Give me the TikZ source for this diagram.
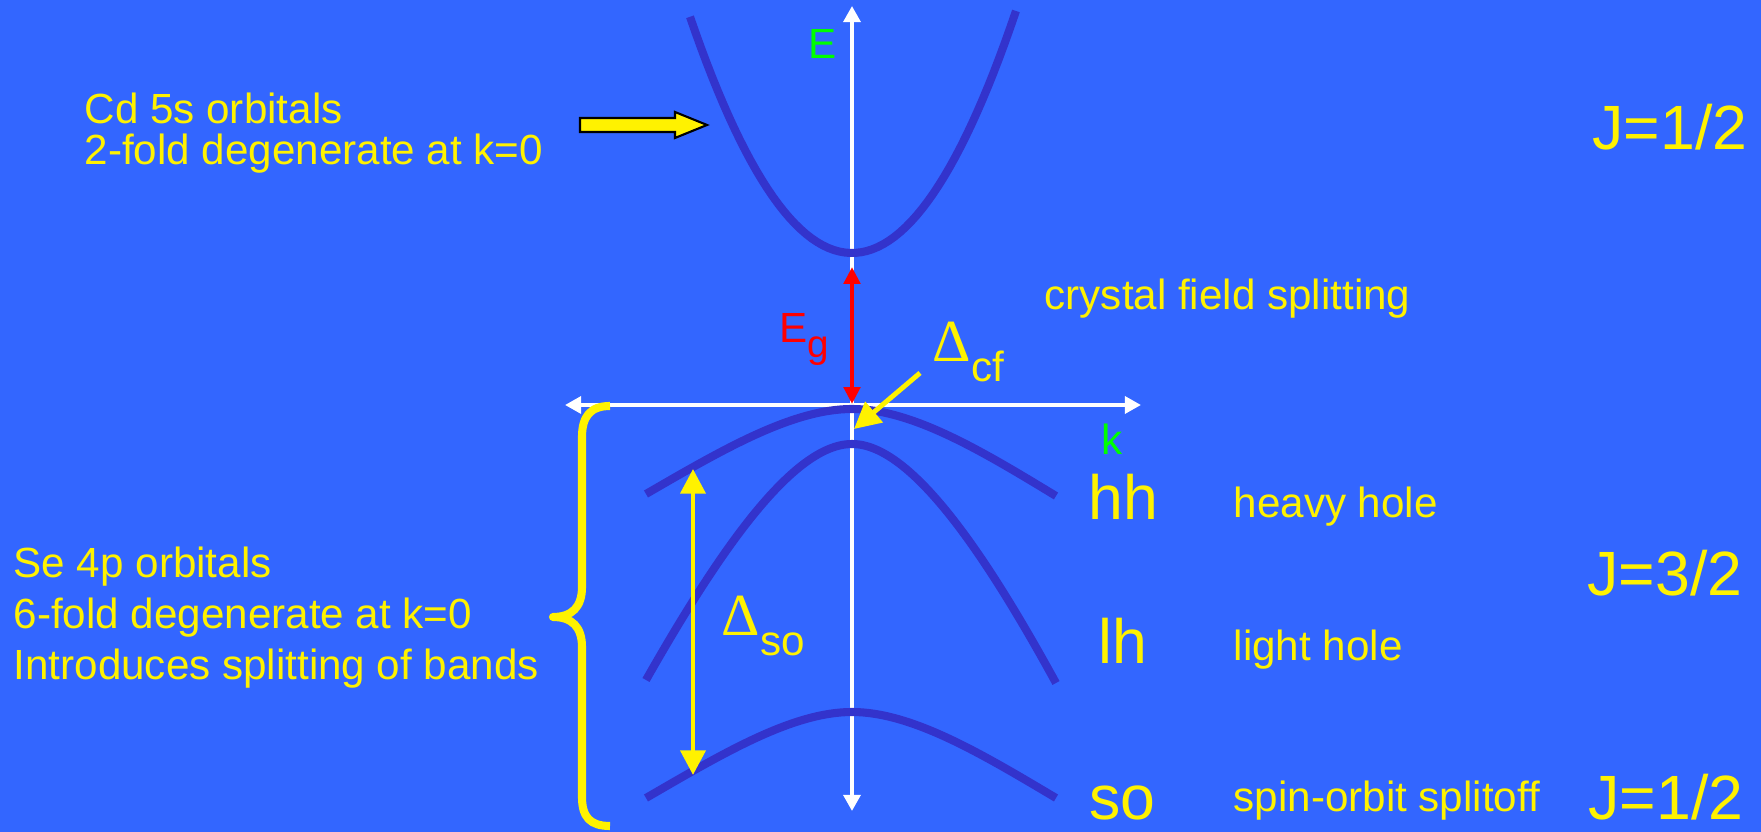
\documentclass[tikz,border=0pt]{standalone}
\usepackage{fontspec}
\setmainfont{Liberation Sans}
\newfontfamily\greekfont{Liberation Serif}
\usepackage{xcolor}
\usetikzlibrary{arrows.meta}

\definecolor{slideblue}{RGB}{51,102,255}
\definecolor{bandblue}{RGB}{51,51,204}
\definecolor{axisgreen}{RGB}{0,255,0}

\begin{document}
\begin{tikzpicture}[>=Stealth,
    band/.style={line width=2.3pt, bandblue},
    axis/.style={line width=1.1pt, white, {Triangle[length=4.6pt,width=4.8pt]}-{Triangle[length=4.6pt,width=4.8pt]}},
    gap/.style={yellow, line width=1.4pt},
    txt/.style={text=yellow, inner sep=0pt, font=\fontsize{12}{14.6}\selectfont},
    bigtxt/.style={text=yellow, inner sep=0pt, font=\fontsize{17.8}{20}\selectfont}]
    % Slide background
    \fill [slideblue] (-8.52,-4.27) rectangle (9.09,4.05);
    \useasboundingbox (-8.52,-4.27) rectangle (9.09,4.05);

    % E and k axes
    \draw [axis] (0,-4.06) -- (0,3.99);
    \draw [axis] (-2.87,0) -- (2.89,0);
    \node [text=axisgreen, inner sep=0pt, font=\fontsize{12}{14}\selectfont, anchor=base west] (Elab) at (-0.44,3.46) {E};
    \node [text=axisgreen, inner sep=0pt, font=\fontsize{12}{14}\selectfont, anchor=base west] (klab) at (2.49,-0.50) {k};

    % Band gap
    \draw [red, line width=1.4pt, {Triangle[length=4.8pt,width=4.6pt]}-{Triangle[length=4.8pt,width=4.6pt]}] (0,0.01) -- (0,1.38);
    \node [text=red, inner sep=0pt, font=\fontsize{12}{14}\selectfont, anchor=base west] (Eg) at (-0.73,0.62) {E\raisebox{-0.15cm}{\fontsize{11}{12}\selectfont g}};

    % Conduction band
    \draw [band, domain=-1.62:1.64, samples=60] plot (\x, {1.52+0.9*\x*\x});

    % Valence bands: hh, lh, so
    \draw [band] (-2.06,-0.89) .. controls (-1.3,-0.45) and (-0.6,-0.04) .. (0,-0.04)
        .. controls (0.6,-0.04) and (1.3,-0.46) .. (2.04,-0.91);
    \draw [band] (-2.06,-2.75) .. controls (-1.35,-1.5) and (-0.6,-0.39) .. (0,-0.39)
        .. controls (0.6,-0.39) and (1.35,-1.52) .. (2.04,-2.78);
    \draw [band] (-2.06,-3.93) .. controls (-1.3,-3.49) and (-0.6,-3.07) .. (0,-3.07)
        .. controls (0.6,-3.07) and (1.3,-3.49) .. (2.04,-3.93);

    % Splittings
    \draw [gap, -{Triangle[length=7.5pt,width=7.5pt]}] (0.68,0.32) -- (0.02,-0.24);
    \node [txt, anchor=base west] (dcf) at (0.80,0.43) {{\greekfont\fontsize{17}{18}\selectfont Δ}\raisebox{-0.2cm}{cf}};
    \draw [gap, {Triangle[length=7pt,width=7pt]}-{Triangle[length=7pt,width=7pt]}] (-1.59,-0.64) -- (-1.59,-3.70);
    \node [txt, anchor=base west] (dso) at (-1.31,-2.31) {{\greekfont\fontsize{17}{18}\selectfont Δ}\raisebox{-0.2cm}{so}};

    % Brace over the valence bands
    \draw [yellow, line width=2.3pt, line join=round]
        (-2.42,-0.01) .. controls (-2.62,-0.01) and (-2.70,-0.12) .. (-2.70,-0.32) -- (-2.70,-1.82)
        .. controls (-2.70,-2.02) and (-2.80,-2.12) .. (-2.99,-2.12)
        .. controls (-2.80,-2.12) and (-2.70,-2.22) .. (-2.70,-2.42) -- (-2.70,-3.92)
        .. controls (-2.70,-4.12) and (-2.62,-4.21) .. (-2.42,-4.21);

    % Block arrow to the conduction band
    \draw [fill=yellow, line width=0.6pt] (-2.72,2.87) -- (-1.77,2.87) -- (-1.77,2.93) -- (-1.45,2.80)
        -- (-1.77,2.67) -- (-1.77,2.73) -- (-2.72,2.73) -- cycle;

    % Orbital texts
    \node [txt, anchor=north west, align=left, font=\fontsize{12}{11.8}\selectfont] (cdtxt) at (-7.68,3.13) {Cd 5s orbitals\\2-fold degenerate at k=0};
    \node [txt, anchor=north west, align=left] (setxt) at (-8.39,-1.41) {Se 4p orbitals\\6-fold degenerate at k=0\\Introduces splitting of bands};
    \node [txt, anchor=base west] (cfs) at (1.92,0.95) {crystal field splitting};

    % Band names
    \node [bigtxt, anchor=base west] (hh) at (2.36,-1.15) {hh};
    \node [bigtxt, anchor=base west] (lh) at (2.46,-2.59) {lh};
    \node [bigtxt, anchor=base west] (so) at (2.37,-4.15) {so};
    \node [txt, anchor=base west] (hhname) at (3.81,-1.13) {heavy hole};
    \node [txt, anchor=base west] (lhname) at (3.81,-2.56) {light hole};
    \node [txt, anchor=base west] (soname) at (3.81,-4.07) {spin-orbit splitoff};

    % Total angular momentum
    \node [bigtxt, anchor=base west] (jcb) at (7.40,2.55) {J=1/2};
    \node [bigtxt, anchor=base west] (jhl) at (7.35,-1.91) {J=3/2};
    \node [bigtxt, anchor=base west] (jso) at (7.36,-4.15) {J=1/2};
\end{tikzpicture}
\end{document}
